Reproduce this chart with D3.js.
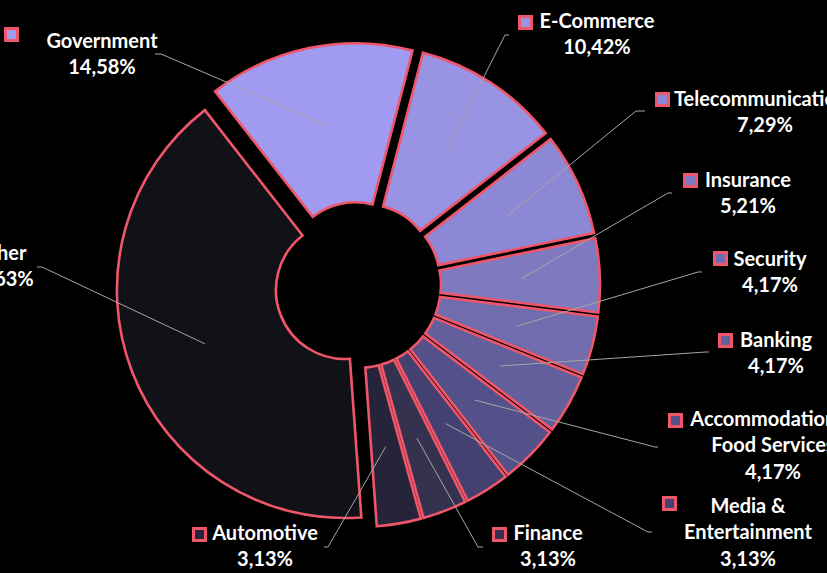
<!DOCTYPE html>
<html>
<head>
<meta charset="utf-8">
<script src="https://cdn.jsdelivr.net/npm/d3@7"></script>
<style>
  html, body { margin: 0; padding: 0; background: #000; }
  svg { display: block; }
</style>
</head>
<body>
<div id="wrapper"></div>
<script>
// DATA
const categories = ["Government", "E-Commerce", "Telecommunications", "Insurance", "Security",
  "Banking", "Accommodation & Food Services", "Media & Entertainment", "Finance", "Automotive", "Other"];
const shares = [14.58, 10.42, 7.29, 5.21, 4.17, 4.17, 4.17, 3.13, 3.13, 3.13, 40.63];
const labelLines = [
  ["Government"], ["E-Commerce"], ["Telecommunications"], ["Insurance"], ["Security"],
  ["Banking"], ["Accommodation &", "Food Services"], ["Media &", "Entertainment"],
  ["Finance"], ["Automotive"], ["Other"]
];
const colors = ["#a09bf0", "#9893e2", "#8d88d5", "#7f7ac0", "#716cae", "#635f9c",
  "#54508a", "#444170", "#34324f", "#25243a", "#111118"];

// LAYOUT (label spots, picked by eye)
const labelPos = {
  "Government": { x: 102, y: 48, key: [4, 27], end: [155, 54], elbow: 6 },
  "E-Commerce": { x: 597, y: 28, key: [518, 15], end: [509, 35], elbow: -4 },
  "Telecommunications": { x: 765, y: 106, key: [655, 92], end: [645, 111], elbow: -9 },
  "Insurance": { x: 748, y: 187, key: [683, 173], end: [672, 193], elbow: -4 },
  "Security": { x: 770, y: 266, key: [713, 251], end: [702, 272], elbow: -4 },
  "Banking": { x: 776, y: 347, key: [718, 333], end: [709, 352], elbow: -3 },
  "Accommodation & Food Services": { x: 773, y: 426, key: [668, 413], end: [658, 447], elbow: -3 },
  "Media & Entertainment": { x: 748, y: 513, key: [662, 496], end: [652, 532], elbow: -4 },
  "Finance": { x: 548, y: 540, key: [492, 527], end: [483, 547], elbow: -5 },
  "Automotive": { x: 265, y: 540, key: [192, 527], end: [324, 547], elbow: 4 },
  "Other": { x: 0, y: 260, key: [-80, 246], end: [37, 267], elbow: 5 }
};

const data = categories.map((c, i) => ({ name: c, value: shares[i], lines: labelLines[i], color: colors[i] }));

const W = 827, H = 573;
const cx = 358, cy = 285;
const R = 228, r = 69, explode = 14;
const stroke = "#f0566a";
const fmt = v => d3.format(".2f")(v).replace(".", ",") + "%";

const svg = d3.select("#wrapper").append("svg")
  .attr("width", W).attr("height", H)
  .attr("viewBox", [0, 0, W, H]);

svg.append("rect").attr("width", W).attr("height", H).attr("fill", "#000");

const a0 = -37.9 * Math.PI / 180;
const pie = d3.pie().value(d => d.value).sort(null).startAngle(a0).endAngle(a0 + 2 * Math.PI);
const arcs = pie(data);

const arc = d3.arc().innerRadius(r).outerRadius(R);
const inner = d3.arc().innerRadius(150).outerRadius(150);

const off = d => {
  const m = (d.startAngle + d.endAngle) / 2;
  return [explode * Math.sin(m), -explode * Math.cos(m)];
};

const g = svg.append("g").attr("transform", `translate(${cx},${cy})`);

//SLICES
g.selectAll("path.slice")
  .data(arcs)
  .join("path")
  .attr("class", "slice")
  .attr("transform", d => `translate(${off(d)})`)
  .attr("d", arc)
  .attr("fill", d => d.data.color)
  .attr("stroke", stroke)
  .attr("stroke-width", 2.6)
  .attr("stroke-linejoin", "miter");

//LEADER LINES
svg.append("g")
  .selectAll("polyline")
  .data(arcs)
  .join("polyline")
  .attr("fill", "none")
  .attr("stroke", "#a6a6a6")
  .attr("stroke-width", 1)
  .attr("points", d => {
    const p = labelPos[d.data.name];
    const o = off(d);
    const c = inner.centroid(d);
    return [
      [p.end[0], p.end[1]],
      [p.end[0] + p.elbow, p.end[1]],
      [cx + o[0] + c[0], cy + o[1] + c[1]]
    ].join(" ");
  });

//LABELS
const lab = svg.append("g")
  .selectAll("g")
  .data(arcs)
  .join("g");

lab.append("rect")
  .attr("x", d => labelPos[d.data.name].key[0] + 1.5)
  .attr("y", d => labelPos[d.data.name].key[1] + 1.5)
  .attr("width", 12)
  .attr("height", 12)
  .attr("fill", d => d.data.color)
  .attr("stroke", stroke)
  .attr("stroke-width", 3);

lab.append("text")
  .attr("font-family", "Lato, 'Open Sans', sans-serif")
  .attr("font-weight", "bold")
  .attr("font-size", 20)
  .attr("fill", "#fff")
  .attr("text-anchor", "middle")
  .each(function (d) {
    const p = labelPos[d.data.name];
    const rows = d.data.lines.concat([fmt(d.data.value)]);
    d3.select(this).selectAll("tspan")
      .data(rows)
      .join("tspan")
      .attr("x", p.x)
      .attr("y", (t, i) => p.y + i * 26.3)
      .text(t => t);
  });
</script>
</body>
</html>
